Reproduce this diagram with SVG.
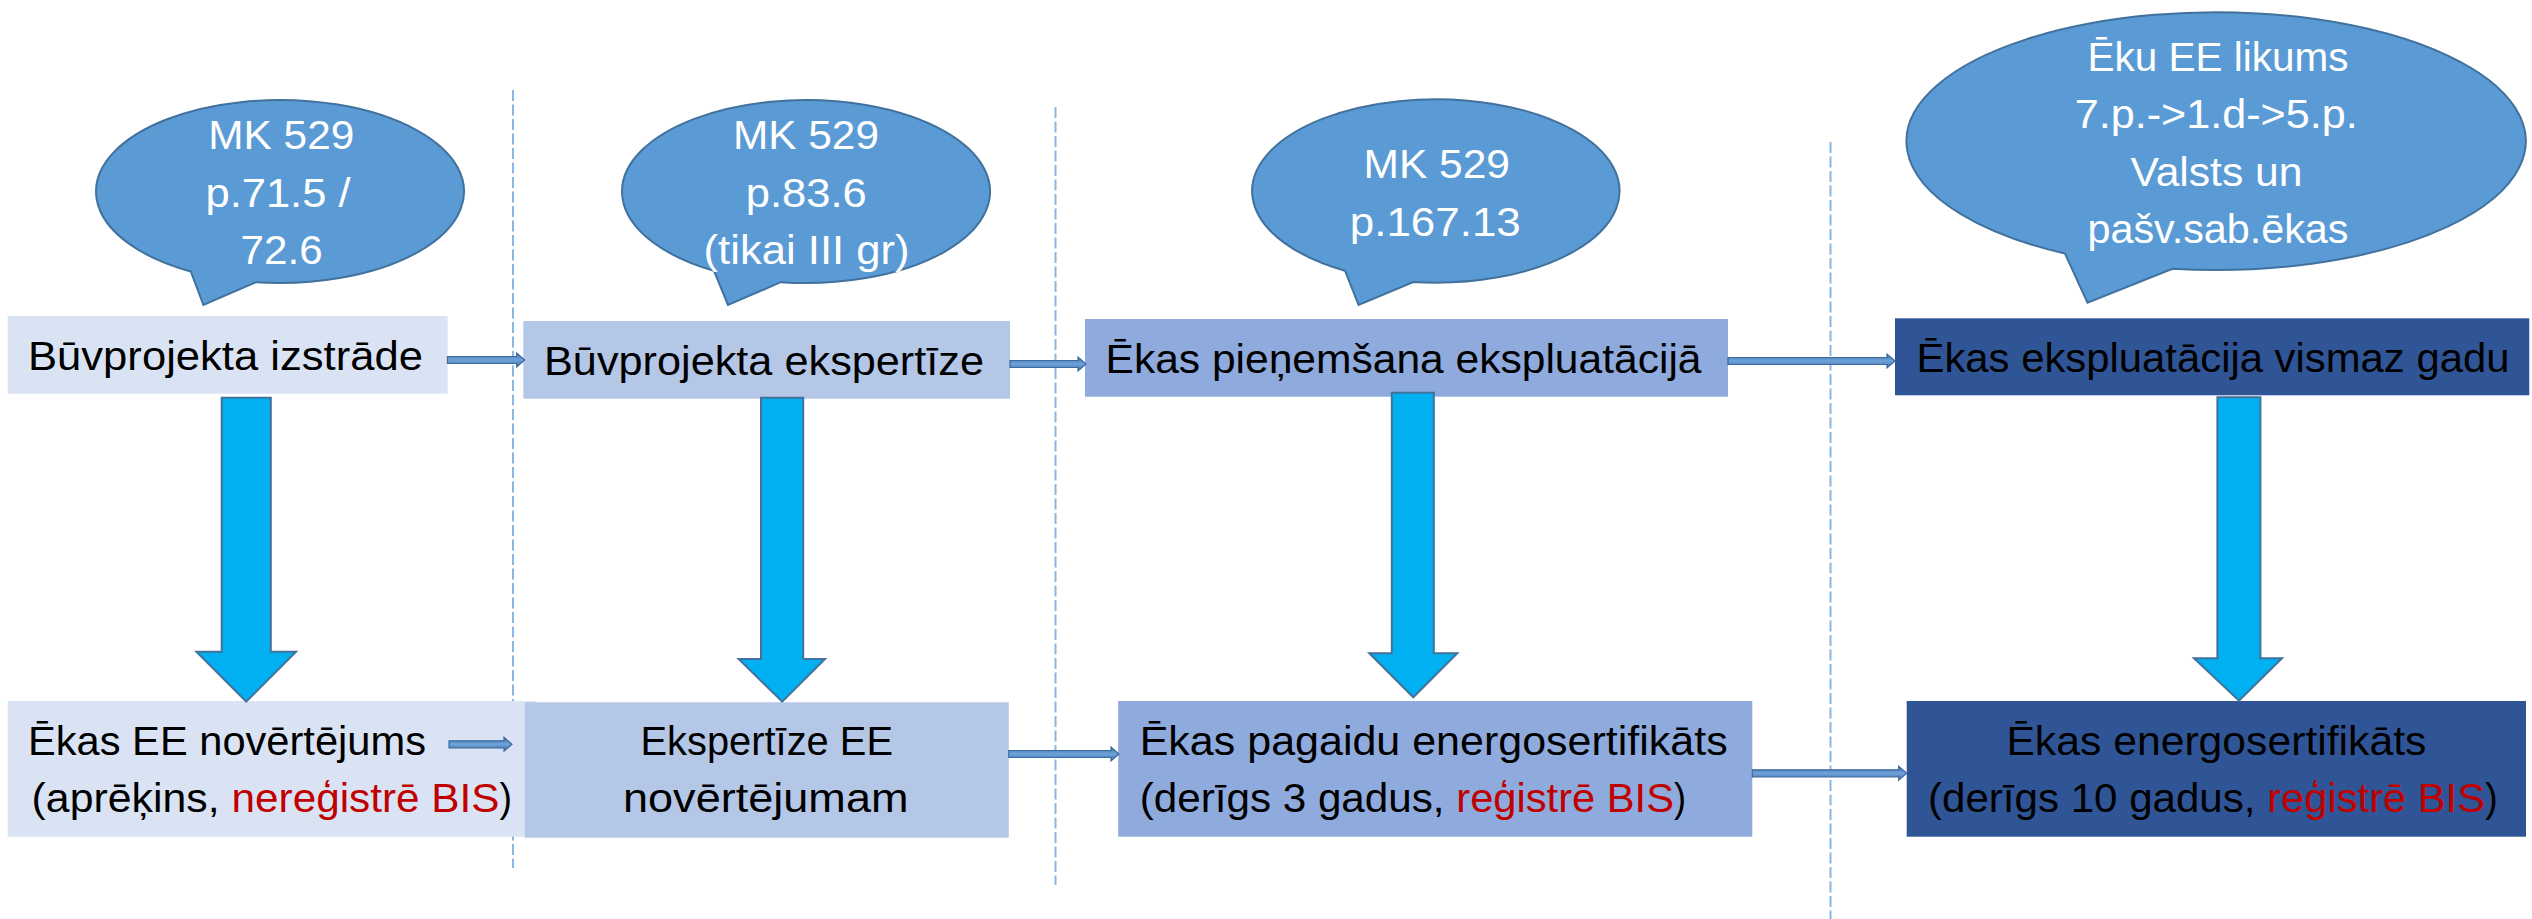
<svg xmlns="http://www.w3.org/2000/svg" width="2532" height="919" viewBox="0 0 2532 919">
<defs>
<linearGradient id="cg" x1="0" y1="0" x2="0" y2="1">
<stop offset="0" stop-color="#3E6FA8"/>
<stop offset="0.5" stop-color="#6FA3DB"/>
<stop offset="1" stop-color="#3E6FA8"/>
</linearGradient>
</defs>
<style>
text{font-family:"Liberation Sans",Arial,sans-serif;font-size:41px;}
.bt{fill:#FFFFFF;}
.nt{fill:#000000;}
.red{fill:#C00000;}
.bubble{fill:#5B9BD5;stroke:#41719C;stroke-width:2;}
.c1{fill:#DAE3F3;}
.c2{fill:#B4C7E7;}
.c3{fill:#8FAADC;}
.c4{fill:#2F5597;}
.div{stroke:#8AB6E2;stroke-width:2;stroke-dasharray:11 3.5;fill:none;}
.sa{fill:url(#cg);stroke:#3B6A9C;stroke-width:1.2;}
.ba{fill:#00B0F0;stroke:#41719C;stroke-width:2;}
</style>
<rect x="0" y="0" width="2532" height="919" fill="#FFFFFF"/>
<g id="dividers">
<line class="div" x1="513" y1="90" x2="513" y2="868"/>
<line class="div" x1="1055.5" y1="107" x2="1055.5" y2="885"/>
<line class="div" x1="1830.5" y1="142" x2="1830.5" y2="919"/>
</g>
<g id="bubble1">
<path class="bubble" d="M190.8 271.5 L203.4 305 L256 282.2 A184 91.5 0 1 0 190.8 271.5 Z"/>
<text class="bt" x="208.3" y="149" textLength="146" lengthAdjust="spacingAndGlyphs">MK 529</text>
<text class="bt" x="205.5" y="207" textLength="145" lengthAdjust="spacingAndGlyphs">p.71.5 /</text>
<text class="bt" x="240.6" y="264" textLength="82" lengthAdjust="spacingAndGlyphs">72.6</text>
</g>
<g id="bubble2">
<path class="bubble" d="M714 270.8 L728 305 L780.8 282.2 A184 91.5 0 1 0 714 270.8 Z"/>
<text class="bt" x="733" y="149" textLength="146" lengthAdjust="spacingAndGlyphs">MK 529</text>
<text class="bt" x="745.7" y="207" textLength="121" lengthAdjust="spacingAndGlyphs">p.83.6</text>
<text class="bt" x="703.6" y="264" textLength="206" lengthAdjust="spacingAndGlyphs">(tikai III gr)</text>
</g>
<g id="bubble3">
<path class="bubble" d="M1345 270.7 L1358.6 305 L1413.3 282 A183.7 91.7 0 1 0 1345 270.7 Z"/>
<text class="bt" x="1363.5" y="178" textLength="146.5" lengthAdjust="spacingAndGlyphs">MK 529</text>
<text class="bt" x="1349.8" y="235.7" textLength="171" lengthAdjust="spacingAndGlyphs">p.167.13</text>
</g>
<g id="bubble4">
<path class="bubble" d="M2065 253.6 L2087.5 302.7 L2172.5 268.7 A309.65 128.85 0 1 0 2065 253.6 Z"/>
<text class="bt" x="2087.5" y="70.7" textLength="261" lengthAdjust="spacingAndGlyphs">Ēku EE likums</text>
<text class="bt" x="2074.7" y="128.3" textLength="283" lengthAdjust="spacingAndGlyphs">7.p.-&gt;1.d-&gt;5.p.</text>
<text class="bt" x="2130.4" y="185.7" textLength="172" lengthAdjust="spacingAndGlyphs">Valsts un</text>
<text class="bt" x="2087.5" y="243.3" textLength="261" lengthAdjust="spacingAndGlyphs">pašv.sab.ēkas</text>
</g>
<g id="box1">
<rect class="c1" x="7.7" y="316" width="439.9" height="77.7"/>
<text class="nt" x="28" y="370" textLength="395" lengthAdjust="spacingAndGlyphs">Būvprojekta izstrāde</text>
</g>
<g id="box2">
<rect class="c2" x="523.3" y="321" width="486.7" height="77.7"/>
<text class="nt" x="544" y="375" textLength="440" lengthAdjust="spacingAndGlyphs">Būvprojekta ekspertīze</text>
</g>
<g id="box3">
<rect class="c3" x="1085" y="319" width="643" height="77.7"/>
<text class="nt" x="1105.5" y="372.7" textLength="596" lengthAdjust="spacingAndGlyphs">Ēkas pieņemšana ekspluatācijā</text>
</g>
<g id="box4">
<rect class="c4" x="1895" y="318.3" width="634.3" height="77"/>
<text class="nt" x="1916.5" y="371.7" textLength="593" lengthAdjust="spacingAndGlyphs">Ēkas ekspluatācija vismaz gadu</text>
</g>
<g id="box5">
<rect class="c1" x="7.7" y="701" width="529" height="135.7"/>
<text class="nt" x="28" y="755" textLength="398" lengthAdjust="spacingAndGlyphs">Ēkas EE novērtējums</text>
<text class="nt" y="811.7"><tspan x="31.6" textLength="199.9" lengthAdjust="spacingAndGlyphs">(aprēķins, </tspan><tspan class="red" x="231.5" textLength="268" lengthAdjust="spacingAndGlyphs">nereģistrē BIS</tspan><tspan x="499.5" textLength="12.5" lengthAdjust="spacingAndGlyphs">)</tspan></text>
</g>
<g id="box6">
<rect class="c2" x="524.7" y="702.3" width="484.1" height="135.4"/>
<text class="nt" x="640.5" y="755" textLength="252.5" lengthAdjust="spacingAndGlyphs">Ekspertīze EE</text>
<text class="nt" x="623" y="812.3" textLength="285.5" lengthAdjust="spacingAndGlyphs">novērtējumam</text>
</g>
<g id="box7">
<rect class="c3" x="1118.2" y="701" width="634.1" height="135.7"/>
<text class="nt" x="1139.7" y="755" textLength="588" lengthAdjust="spacingAndGlyphs">Ēkas pagaidu energosertifikāts</text>
<text class="nt" y="811.7"><tspan x="1139.7" textLength="316.6" lengthAdjust="spacingAndGlyphs">(derīgs 3 gadus, </tspan><tspan class="red" x="1456.3" textLength="217.7" lengthAdjust="spacingAndGlyphs">reģistrē BIS</tspan><tspan x="1674" textLength="12" lengthAdjust="spacingAndGlyphs">)</tspan></text>
</g>
<g id="box8">
<rect class="c4" x="1906.7" y="701" width="619.3" height="135.7"/>
<text class="nt" x="2006.4" y="755" textLength="420" lengthAdjust="spacingAndGlyphs">Ēkas energosertifikāts</text>
<text class="nt" y="811.7"><tspan x="1928" textLength="339.2" lengthAdjust="spacingAndGlyphs">(derīgs 10 gadus, </tspan><tspan class="red" x="2267.2" textLength="217.8" lengthAdjust="spacingAndGlyphs">reģistrē BIS</tspan><tspan x="2485" textLength="12.8" lengthAdjust="spacingAndGlyphs">)</tspan></text>
</g>
<g id="connectors">
<path class="sa" d="M447.5 356.5 L516.7 356.5 L516.7 353 L524.7 360 L516.7 367 L516.7 363.5 L447.5 363.5 Z"/>
<path class="sa" d="M1010 360.5 L1078 360.5 L1078 357 L1086 364 L1078 371 L1078 367.5 L1010 367.5 Z"/>
<path class="sa" d="M1728 357.5 L1887 357.5 L1887 354 L1895 361 L1887 368 L1887 364.5 L1728 364.5 Z"/>
<path class="sa" d="M449 740.8 L504 740.8 L504 737.3 L512 744.3 L504 751.3 L504 747.8 L449 747.8 Z"/>
<path class="sa" d="M1008.8 750.5 L1111 750.5 L1111 747 L1119 754 L1111 761 L1111 757.5 L1008.8 757.5 Z"/>
<path class="sa" d="M1752.3 769.8 L1898.7 769.8 L1898.7 766.3 L1906.7 773.3 L1898.7 780.3 L1898.7 776.8 L1752.3 776.8 Z"/>
<path class="ba" d="M221.7 397.7 L270.8 397.7 L270.8 651.7 L296 651.7 L246.2 701.7 L196.4 651.7 L221.7 651.7 Z"/>
<path class="ba" d="M761 397.7 L803.2 397.7 L803.2 659 L825 659 L782.2 701.7 L738.7 659 L761 659 Z"/>
<path class="ba" d="M1391.8 392.7 L1433.8 392.7 L1433.8 653.3 L1457.3 653.3 L1413.3 697.3 L1369.3 653.3 L1391.8 653.3 Z"/>
<path class="ba" d="M2217.4 397.3 L2260.4 397.3 L2260.4 658.3 L2282 658.3 L2239 700.7 L2194 658.3 L2217.4 658.3 Z"/>
</g>
</svg>
